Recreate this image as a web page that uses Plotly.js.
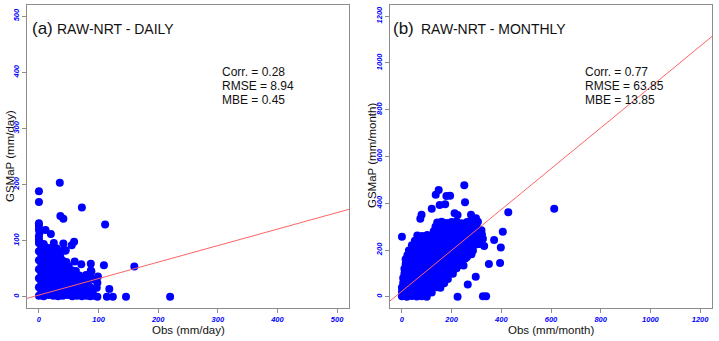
<!DOCTYPE html>
<html>
<head>
<meta charset="utf-8">
<script src="https://cdn.plot.ly/plotly-3.0.1.min.js"></script>
<style>html,body{margin:0;padding:0;background:#fff;}#chart{width:719px;height:341px;}</style>
</head>
<body>
<div id="chart"></div>
<script>
// ---------- DATA ----------
// Panel (a): daily, Obs (mm/day) vs GSMaP (mm/day)
const obsDaily = [
  0,8,16,24,32,40,48,56,64,72,80,86,92,
  4,12,20,28,36,44,52,60,68,76,84,90,
  0,8,16,24,32,40,48,56,64,72,80,86,
  4,12,20,28,36,44,52,60,68,76,82,
  0,8,16,24,32,40,48,56,64,72,78,
  4,12,20,28,36,44,52,60,68,
  0,8,16,24,32,40,48,56,62,
  4,12,20,28,36,44,50,
  0,8,16,24,32,40,46,
  4,12,20,28,36,
  0,8,16,24,30,
  4,10,18,
  2,8,
  0,0,0,1,0,0,0,
  0,0,35,36,41,72,111,11,20,45,25,41,55,59,60,87,71,109,160,87,79,86,93,99,98,97,118,98,114,124,146,220,30,41,88,44
];
const gsmDaily = [
  2,1,3,2,1,2,3,1,2,1,2,1,2,
  9,10,8,9,10,9,8,10,9,8,9,8,
  17,16,18,17,16,17,18,16,17,16,15,17,
  25,26,24,25,26,25,24,26,25,24,23,
  33,34,32,33,34,33,32,33,32,31,30,
  41,42,40,41,42,41,40,39,38,
  49,50,48,49,50,49,48,47,46,
  57,58,56,57,58,56,55,
  65,66,64,65,66,64,62,
  73,74,72,73,71,
  81,82,80,81,79,
  88,89,87,
  95,94,
  96,102,108,114,120,126,131,
  169,188,203,144,139,159,129,119,112,83,96,95,92,98,63,59,58,56,54,47,39,35,31,36,25,16,14,0,0,0,0,0,86,83,45,82
];
const fitDaily = [3, 0.294];   // intercept, slope of red line

// Panel (b): monthly, Obs (mm/month) vs GSMaP (mm/month)
const obsMonthly = [
  0,20,40,60,80,100,
  0,20,40,60,80,100,120,
  0,20,40,60,80,100,120,140,155,
  5,25,45,65,85,105,125,145,170,
  5,25,45,65,85,105,125,145,165,185,
  10,30,50,70,90,110,130,150,170,190,205,
  10,30,50,70,90,110,130,150,170,190,210,220,
  15,35,55,75,95,115,135,155,175,195,215,235,248,
  15,35,55,75,95,115,135,155,175,195,215,235,255,262,
  22,42,62,82,102,122,142,162,182,202,222,242,262,280,
  28,48,68,88,108,128,148,168,188,208,228,248,268,286,
  40,60,80,100,120,140,160,180,200,220,240,260,280,298,312,
  52,72,92,112,132,152,172,192,212,232,252,272,292,310,326,
  62,82,102,122,145,165,185,205,225,245,265,285,305,322,
  128,148,168,188,208,228,248,268,288,308,320,
  135,152,170,190,210,230,250,270,290,302,
  142,160,180,200,220,240,262,278,
  251,148,136,179,194,254,152,174,120,79,74,212,224,278,0,406,371,398,350,395,297,265,224,326,339,428,613,298,306,331,320,23
];
const gsmMonthly = [
  2,0,3,1,2,0,
  20,21,19,20,22,20,18,
  40,41,39,40,42,40,38,41,39,
  60,61,59,60,62,60,58,61,58,
  80,81,79,80,82,80,78,81,79,76,
  100,101,99,100,102,100,98,101,99,100,98,
  120,121,119,120,122,120,118,121,119,120,118,122,
  140,141,139,140,142,140,138,141,139,140,138,136,134,
  160,161,159,160,162,160,158,161,159,160,158,162,164,170,
  178,181,179,180,182,180,178,181,179,180,178,182,180,182,
  198,201,199,200,202,200,198,201,199,200,198,202,200,198,
  220,221,219,220,222,220,218,221,219,220,218,222,220,224,226,
  240,241,239,240,242,240,238,241,239,240,238,242,240,244,248,
  262,260,264,262,260,261,259,262,260,261,259,262,260,266,
  280,281,279,280,282,280,278,281,279,282,285,
  300,302,299,301,303,300,298,302,299,296,
  318,321,316,320,322,315,320,326,
  477,457,436,431,432,404,393,396,377,351,334,357,350,351,257,278,243,211,140,145,86,53,0,2,2,362,376,336,321,217,243,168
];
const fitMonthly = [24, 0.873];

const ticksDaily = [0,100,200,300,400,500];
const ticksMonthly = [0,200,400,600,800,1000,1200];
const rangeDaily = [-20, 520];
const rangeMonthly = [-48, 1248];

// ---------- LAYOUT HELPERS ----------
const W = 719, H = 341;
const px = x => x / W;
const py = y => 1 - y / H;
const blue = '#0000ff';

function lineTrace(fit, range, xa, ya) {
  return {
    x: range, y: range.map(v => fit[0] + fit[1] * v),
    mode: 'lines', type: 'scatter', xaxis: xa, yaxis: ya,
    line: {color: '#ff6464', width: 1}, hoverinfo: 'skip'
  };
}
function ptsTrace(xs, ys, xa, ya) {
  return {
    x: xs, y: ys, mode: 'markers', type: 'scatter', xaxis: xa, yaxis: ya,
    marker: {color: blue, size: 8, line: {width: 0}}
  };
}

const data = [
  ptsTrace(obsDaily, gsmDaily, 'x', 'y'),
  lineTrace(fitDaily, rangeDaily, 'x', 'y'),
  ptsTrace(obsMonthly, gsmMonthly, 'x2', 'y2'),
  lineTrace(fitMonthly, rangeMonthly, 'x2', 'y2')
];

const tickFont = {family: 'Liberation Sans, Arial, sans-serif', size: 7.5, color: blue, weight: 'bold', style: 'italic'};
function axis(extra) {
  return Object.assign({
    showline: true, mirror: true, linecolor: '#8c8c8c', linewidth: 1,
    ticks: 'outside', ticklen: 4, tickcolor: '#8c8c8c', tickwidth: 1,
    showgrid: false, zeroline: false, automargin: false, fixedrange: true,
    tickfont: tickFont, tickmode: 'array'
  }, extra);
}
const yDom = [(H - 308) / H, (H - 5) / H];

const txt = {family: 'Liberation Sans, Arial, sans-serif', color: '#111'};
function ann(text, x, y, size, extra) {
  return Object.assign({
    text: text, xref: 'paper', yref: 'paper', x: px(x), y: py(y),
    xanchor: 'left', yanchor: 'middle', showarrow: false, borderpad: 0,
    font: Object.assign({}, txt, {size: size})
  }, extra || {});
}

const layout = {
  width: W, height: H,
  margin: {l: 0, r: 0, t: 0, b: 0},
  paper_bgcolor: '#fff', plot_bgcolor: '#fff',
  showlegend: false,
  xaxis: axis({domain: [px(27), px(349)], range: rangeDaily, tickvals: ticksDaily, anchor: 'y'}),
  yaxis: axis({domain: yDom, range: rangeDaily, tickvals: ticksDaily, tickangle: -90, anchor: 'x'}),
  xaxis2: axis({domain: [px(390), px(712)], range: rangeMonthly, tickvals: ticksMonthly, anchor: 'y2'}),
  yaxis2: axis({domain: yDom, range: rangeMonthly, tickvals: ticksMonthly, tickangle: -90, anchor: 'x2'}),
  annotations: [
    ann('(a)', 31, 28, 17),
    ann('RAW-NRT - DAILY', 56, 29, 14),
    ann('Corr. = 0.28', 221, 72, 12),
    ann('RMSE = 8.94', 221, 86, 12),
    ann('MBE = 0.45', 221, 100, 12),
    ann('Obs (mm/day)', 188, 330, 11.5, {xanchor: 'center'}),
    ann('GSMaP (mm/day)', 10, 156, 11.5, {xanchor: 'center', textangle: -90}),
    ann('(b)', 392, 28, 17),
    ann('RAW-NRT - MONTHLY', 420, 29, 14),
    ann('Corr. = 0.77', 584, 72, 12),
    ann('RMSE = 63.85', 584, 86, 12),
    ann('MBE = 13.85', 584, 100, 12),
    ann('Obs (mm/month)', 551, 330, 11.5, {xanchor: 'center'}),
    ann('GSMaP (mm/month)', 372, 156, 11.5, {xanchor: 'center', textangle: -90})
  ]
};

Plotly.newPlot('chart', data, layout, {staticPlot: true, displayModeBar: false});
</script>
</body>
</html>
